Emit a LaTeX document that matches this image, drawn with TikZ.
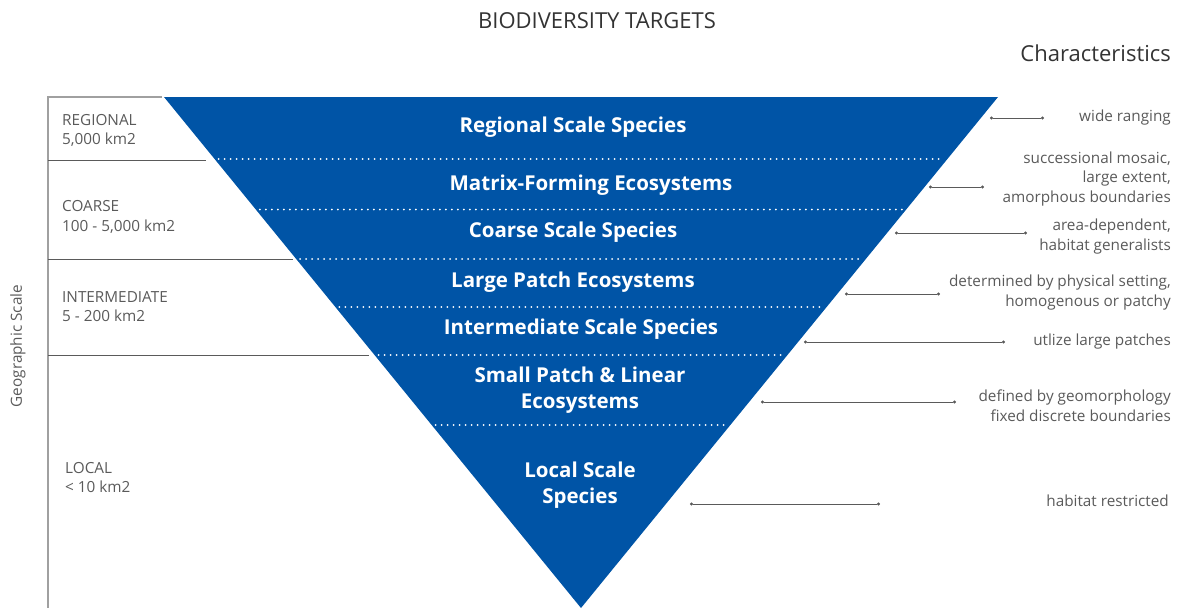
\documentclass[tikz,border=0pt]{standalone}
\usepackage{fontspec}
\setmainfont{Open Sans}
\usetikzlibrary{calc,arrows.meta}
\definecolor{tblue}{RGB}{0,84,166}
\definecolor{tgray}{RGB}{90,90,90}
\definecolor{lgray}{RGB}{160,160,160}
\begin{document}
\begin{tikzpicture}[x=1pt,y=-1pt,
  lab/.style={font=\fontsize{15.3}{19.5}\selectfont, text=tgray, inner sep=0pt},
  leftlab/.style={lab, anchor=west, align=left},
  charlab/.style={lab, anchor=east, align=right},
  tier/.style={font=\fontsize{20.5}{26}\selectfont\bfseries, text=white, align=center, inner sep=0pt},
  sep/.style={white, line width=2pt, line cap=round, dash pattern=on 0pt off 6pt, shorten <=4pt, shorten >=4pt},
  conn/.style={tgray, line width=0.9pt, {Circle[length=3pt]}-{Circle[length=3pt]}},
  band/.style={tgray, line width=0.9pt},
  head/.style={font=\fontsize{22}{26}\selectfont, text=black!80, inner sep=0pt},
]
\useasboundingbox (0,0) rectangle (1180,608);
% titles
\node[head] (title) at (597,21) {BIODIVERSITY TARGETS};
\node[head, anchor=east] (chars) at (1171,53) {Characteristics};
% triangle
\coordinate (TL) at (164,97);
\coordinate (TR) at (998,97);
\coordinate (B) at (581,608);
\fill[tblue] (TL) -- (TR) -- (B) -- cycle;
\foreach \t in {0.1213,0.2202,0.3170,0.4110,0.5049,0.6419}
  \draw[sep] ($(TL)!\t!(B)$) -- ($(TR)!\t!(B)$);
% left scale
\draw[lgray, line width=1.3pt] (48,97) -- (48,608);
\draw[lgray, line width=1.3pt] (47,97) -- (162,97);
\draw[band] (48,160) -- (206,160);
\draw[band] (48,259) -- (293,259);
\draw[band] (48,355) -- (369,355);
\node[lab, rotate=90] (geo) at (18,346) {Geographic Scale};
\node[leftlab] (reg) at (62,130.5) {REGIONAL\\5,000 km2};
\node[leftlab] (coa) at (62,217) {COARSE\\100 - 5,000 km2};
\node[leftlab] (int) at (62,306.5) {INTERMEDIATE\\5 - 200 km2};
\node[leftlab] (loc) at (65,477.5) {LOCAL\\< 10 km2};
% tier labels
\node[tier] (t1) at (573,127) {Regional Scale Species};
\node[tier] (t2) at (591,185) {Matrix-Forming Ecosystems};
\node[tier] (t3) at (573,232) {Coarse Scale Species};
\node[tier] (t4) at (573,282) {Large Patch Ecosystems};
\node[tier] (t5) at (581,329) {Intermediate Scale Species};
\node[tier] (t6) at (580,390) {Small Patch \& Linear\\Ecosystems};
\node[tier] (t7) at (580,485) {Local Scale\\Species};
% characteristics
\node[charlab] (c1) at (1171,118) {wide ranging};
\node[charlab] (c2) at (1171,179) {successional mosaic,\\large extent,\\amorphous boundaries};
\node[charlab] (c3) at (1171,236.5) {area-dependent,\\habitat generalists};
\node[charlab] (c4) at (1171,292.5) {determined by physical setting,\\homogenous or patchy};
\node[charlab] (c5) at (1171,342) {utlize large patches};
\node[charlab] (c6) at (1171,405.5) {defined by geomorphology\\fixed discrete boundaries};
\node[charlab] (c7) at (1169,501) {habitat restricted};
\coordinate (a1) at (990,118);  \coordinate (b1) at (1044,118);
\coordinate (a2) at (929,187);  \coordinate (b2) at (984,187);
\coordinate (a3) at (895,233);  \coordinate (b3) at (1027,233);
\coordinate (a4) at (845,294);  \coordinate (b4) at (940,294);
\coordinate (a5) at (804,342);  \coordinate (b5) at (1005,342);
\coordinate (a6) at (761,402);  \coordinate (b6) at (956,402);
\coordinate (a7) at (690,504);  \coordinate (b7) at (880,504);
\foreach \i in {1,...,7} \draw[conn] (a\i) -- (b\i);
\end{tikzpicture}
\end{document}
